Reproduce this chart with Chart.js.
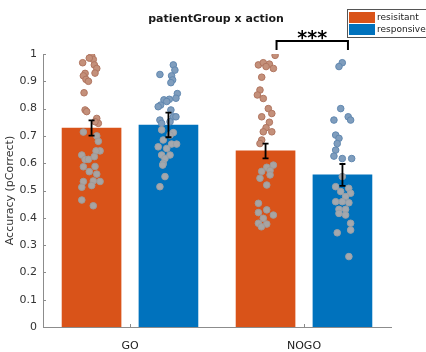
<!DOCTYPE html>
<html>
<head>
<meta charset="utf-8">
<script src="https://cdn.jsdelivr.net/npm/chart.js@4.4.1/dist/chart.umd.min.js"></script>
<style>
  html, body { margin: 0; padding: 0; background: #fff; }
</style>
</head>
<body>
<canvas id="chart" width="426" height="352"></canvas>
<script>
// conditions and groups
const categories = ['GO', 'NOGO'];
const groupNames = ['resisitant', 'responsive'];
const yTicks = [0, 0.1, 0.2, 0.3, 0.4, 0.5, 0.6, 0.7, 0.8, 0.9, 1];

// group means and standard errors (GO, NOGO)
const resistantMean = [0.729, 0.645];
const responsiveMean = [0.740, 0.557];
const resistantSem = [0.028, 0.027];
const responsiveSem = [0.045, 0.040];

// individual subjects, accuracy and horizontal jitter (category units)
const goResistantAcc = [0.968, 0.993, 0.980, 0.960, 0.947, 0.929, 0.920, 0.907, 0.900, 0.930, 0.858, 0.795, 0.789, 0.764, 0.746, 0.714, 0.700, 0.680, 0.645, 0.645, 0.630, 0.614, 0.624, 0.587, 0.588, 0.569, 0.560, 0.533, 0.535, 0.533, 0.518, 0.512, 0.465, 0.444, 0.985, 0.752, 0.614];
const goResistantJit = [-0.051, 0.001, 0.010, 0.016, 0.030, -0.037, -0.047, -0.032, -0.018, 0.020, -0.043, -0.037, -0.028, 0.030, 0.039, -0.047, 0.030, 0.039, 0.049, 0.026, -0.056, -0.037, 0.016, -0.047, 0.020, -0.013, 0.030, -0.047, 0.010, 0.049, 0.001, -0.056, -0.056, 0.010, -0.013, 0.020, -0.018];

const goResponsiveAcc = [0.960, 0.941, 0.920, 0.925, 0.905, 0.895, 0.855, 0.838, 0.834, 0.832, 0.826, 0.813, 0.807, 0.795, 0.770, 0.770, 0.758, 0.752, 0.746, 0.712, 0.703, 0.685, 0.660, 0.654, 0.670, 0.670, 0.630, 0.630, 0.617, 0.599, 0.593, 0.551, 0.514, 0.722];
const goResponsiveJit = [0.028, 0.037, 0.018, -0.049, 0.024, 0.014, 0.051, 0.043, 0.005, -0.026, -0.010, -0.045, -0.059, 0.014, 0.028, 0.043, -0.049, 0.009, -0.039, 0.028, 0.009, -0.030, -0.059, -0.010, 0.018, 0.047, -0.039, 0.009, -0.020, -0.030, -0.033, -0.020, -0.049, -0.039];

const nogoResistantAcc = [0.995, 0.960, 0.968, 0.963, 0.947, 0.954, 0.915, 0.868, 0.850, 0.837, 0.800, 0.782, 0.770, 0.750, 0.730, 0.715, 0.715, 0.685, 0.672, 0.593, 0.585, 0.570, 0.573, 0.557, 0.545, 0.520, 0.453, 0.429, 0.419, 0.410, 0.398, 0.380, 0.377, 0.367];
const nogoResistantJit = [0.055, -0.041, -0.013, 0.022, 0.045, 0.003, -0.022, -0.032, -0.047, -0.013, 0.016, 0.036, -0.022, 0.022, 0.003, 0.036, -0.013, -0.022, -0.032, 0.045, 0.007, -0.022, 0.026, 0.026, -0.032, 0.007, -0.041, 0.007, -0.041, 0.045, -0.013, -0.041, 0.007, -0.024];

const nogoResponsiveAcc = [0.968, 0.954, 0.800, 0.758, 0.770, 0.758, 0.703, 0.691, 0.672, 0.648, 0.626, 0.617, 0.617, 0.551, 0.514, 0.508, 0.496, 0.490, 0.478, 0.459, 0.459, 0.455, 0.431, 0.431, 0.416, 0.410, 0.380, 0.355, 0.345, 0.258];
const nogoResponsiveJit = [-0.001, -0.020, -0.010, -0.049, 0.033, 0.047, -0.039, -0.020, -0.030, -0.039, -0.049, -0.001, 0.053, -0.001, -0.039, 0.036, -0.010, 0.047, 0.018, -0.039, -0.001, 0.037, -0.020, 0.018, -0.020, 0.018, 0.047, 0.047, -0.030, 0.037];

const ORANGE = '#D95319';
const BLUE = '#0072BD';
const FONT = 'DejaVu Sans';
const barShift = 0.221;   // bar centre offset from category centre (category units)

// categories sit at x = 1, 2 on a linear axis
function barPoints(means, side) {
  return means.map((m, i) => ({ x: i + 1 + side * barShift, y: m }));
}
function points(acc, jit, catIdx, side) {
  return acc.map((v, i) => ({ x: catIdx + 1 + side * barShift + jit[i], y: v }));
}

// subjects sitting above the bar look tinted, inside the bar they look grey
const catOf = x => (x < 1.5 ? 0 : 1);
function dotColor(means, above, inside) {
  return ctx => {
    const p = ctx.raw;
    if (!p) return inside;
    return p.y > means[catOf(p.x)] ? above : inside;
  };
}

function barSet(label, means, side, color) {
  return {
    type: 'bar',
    label: label,
    data: barPoints(means, side),
    backgroundColor: color,
    grouped: false,
    categoryPercentage: 1,
    barPercentage: 1,
    maxBarThickness: 59,
    order: 2
  };
}

function dotSet(data, means, fillAbove, edgeAbove, fillIn, edgeIn) {
  return {
    type: 'scatter',
    data: data,
    order: 1,
    pointRadius: 3.3,
    pointBorderWidth: 1,
    pointBackgroundColor: dotColor(means, fillAbove, fillIn),
    pointBorderColor: dotColor(means, edgeAbove, edgeIn)
  };
}

const resistantDots = points(goResistantAcc, goResistantJit, 0, -1)
  .concat(points(nogoResistantAcc, nogoResistantJit, 1, -1));
const responsiveDots = points(goResponsiveAcc, goResponsiveJit, 0, 1)
  .concat(points(nogoResponsiveAcc, nogoResponsiveJit, 1, 1));

const extras = {
  id: 'extras',
  afterDatasetsDraw(chart) {
    const ctx = chart.ctx;
    const y = chart.scales.y;
    const sems = [resistantSem, responsiveSem];
    const means = [resistantMean, responsiveMean];
    ctx.save();
    ctx.strokeStyle = '#000';
    ctx.lineWidth = 1.8;
    [0, 1].forEach(d => {
      chart.getDatasetMeta(d).data.forEach((bar, i) => {
        const top = y.getPixelForValue(means[d][i] + sems[d][i]);
        const bot = y.getPixelForValue(means[d][i] - sems[d][i]);
        ctx.beginPath();
        ctx.moveTo(bar.x, top); ctx.lineTo(bar.x, bot);
        ctx.moveTo(bar.x - 3, top); ctx.lineTo(bar.x + 3, top);
        ctx.moveTo(bar.x - 3, bot); ctx.lineTo(bar.x + 3, bot);
        ctx.stroke();
      });
    });
    ctx.restore();
  },
  afterDraw(chart) {
    const ctx = chart.ctx;
    const area = chart.chartArea;
    const x = chart.scales.x;
    const y = chart.scales.y;
    ctx.save();

    // inward tick marks
    ctx.strokeStyle = '#8c8c8c';
    ctx.lineWidth = 1;
    ctx.beginPath();
    yTicks.forEach(t => {
      const py = Math.round(y.getPixelForValue(t)) + 0.5;
      ctx.moveTo(area.left, py); ctx.lineTo(area.left + 3, py);
    });
    categories.forEach((c, i) => {
      const px = Math.round(x.getPixelForValue(i + 1)) + 0.5;
      ctx.moveTo(px, area.bottom); ctx.lineTo(px, area.bottom - 3);
    });
    ctx.stroke();

    // title
    ctx.fillStyle = '#1a1a1a';
    ctx.font = 'bold 11px "' + FONT + '"';
    ctx.textAlign = 'center';
    ctx.textBaseline = 'middle';
    ctx.fillText('patientGroup x action', 216, 19);

    // significance bracket over NOGO
    const resBar = chart.getDatasetMeta(0).data[1];
    const repBar = chart.getDatasetMeta(1).data[1];
    const bl = resBar.x + 11, br = repBar.x + 5.5;
    const by = y.getPixelForValue(1.048), bLeg = y.getPixelForValue(1.015);
    ctx.strokeStyle = '#000';
    ctx.lineWidth = 2;
    ctx.beginPath();
    ctx.moveTo(bl, bLeg); ctx.lineTo(bl, by); ctx.lineTo(br, by); ctx.lineTo(br, bLeg);
    ctx.stroke();
    ctx.font = 'bold 19px "' + FONT + '"';
    ctx.textBaseline = 'alphabetic';
    ctx.fillStyle = '#000';
    ctx.fillText('***', (bl + br) / 2, 44);

    // legend box
    ctx.fillStyle = '#fff';
    ctx.fillRect(347, 9, 90, 28);
    ctx.strokeStyle = '#555';
    ctx.lineWidth = 1;
    ctx.strokeRect(347.5, 9.5, 90, 28);
    ctx.fillStyle = ORANGE;
    ctx.fillRect(349, 12, 26, 11);
    ctx.fillStyle = BLUE;
    ctx.fillRect(349, 24, 26, 11);
    ctx.fillStyle = '#1a1a1a';
    ctx.font = '9px "' + FONT + '"';
    ctx.textAlign = 'left';
    ctx.textBaseline = 'middle';
    ctx.fillText(groupNames[0], 377, 17.5);
    ctx.fillText(groupNames[1], 377, 29.5);

    ctx.restore();
  }
};

new Chart(document.getElementById('chart'), {
  type: 'bar',
  data: {
    datasets: [
      barSet(groupNames[0], resistantMean, -1, ORANGE),
      barSet(groupNames[1], responsiveMean, 1, BLUE),
      dotSet(resistantDots, resistantMean, '#c4907a', '#b07560', '#a8a4a2', '#a09a98'),
      dotSet(responsiveDots, responsiveMean, '#7f9dbd', '#6188b0', '#a3a8ae', '#98a0a8')
    ]
  },
  options: {
    responsive: false,
    animation: false,
    layout: { padding: { top: 54, right: 35, bottom: 0, left: 0 } },
    plugins: { legend: { display: false }, tooltip: { enabled: false } },
    scales: {
      x: {
        type: 'linear',
        min: 0.5, max: 2.5,
        offset: false,
        afterBuildTicks(scale) { scale.ticks = categories.map((c, i) => ({ value: i + 1 })); },
        grid: { display: false, drawTicks: false, offset: false },
        border: { display: true, color: '#8c8c8c', width: 1 },
        ticks: { color: '#1a1a1a', padding: 13, font: { family: FONT, size: 11 },
                 callback: v => categories[Math.round(v) - 1] },
        afterFit(scale) { scale.height = 25; }
      },
      y: {
        min: 0, max: 1,
        afterBuildTicks(scale) { scale.ticks = yTicks.map(v => ({ value: v })); },
        grid: { display: false, drawTicks: false },
        border: { display: true, color: '#8c8c8c', width: 1 },
        ticks: { color: '#333', padding: 6, font: { family: FONT, size: 11 },
                 callback: v => String(v) },
        title: { display: true, text: 'Accuracy (pCorrect)', color: '#333',
                 padding: { top: 4, bottom: 0 }, font: { family: FONT, size: 11 } },
        afterFit(scale) { scale.width = 43; }
      }
    }
  },
  plugins: [extras]
});
</script>
</body>
</html>
